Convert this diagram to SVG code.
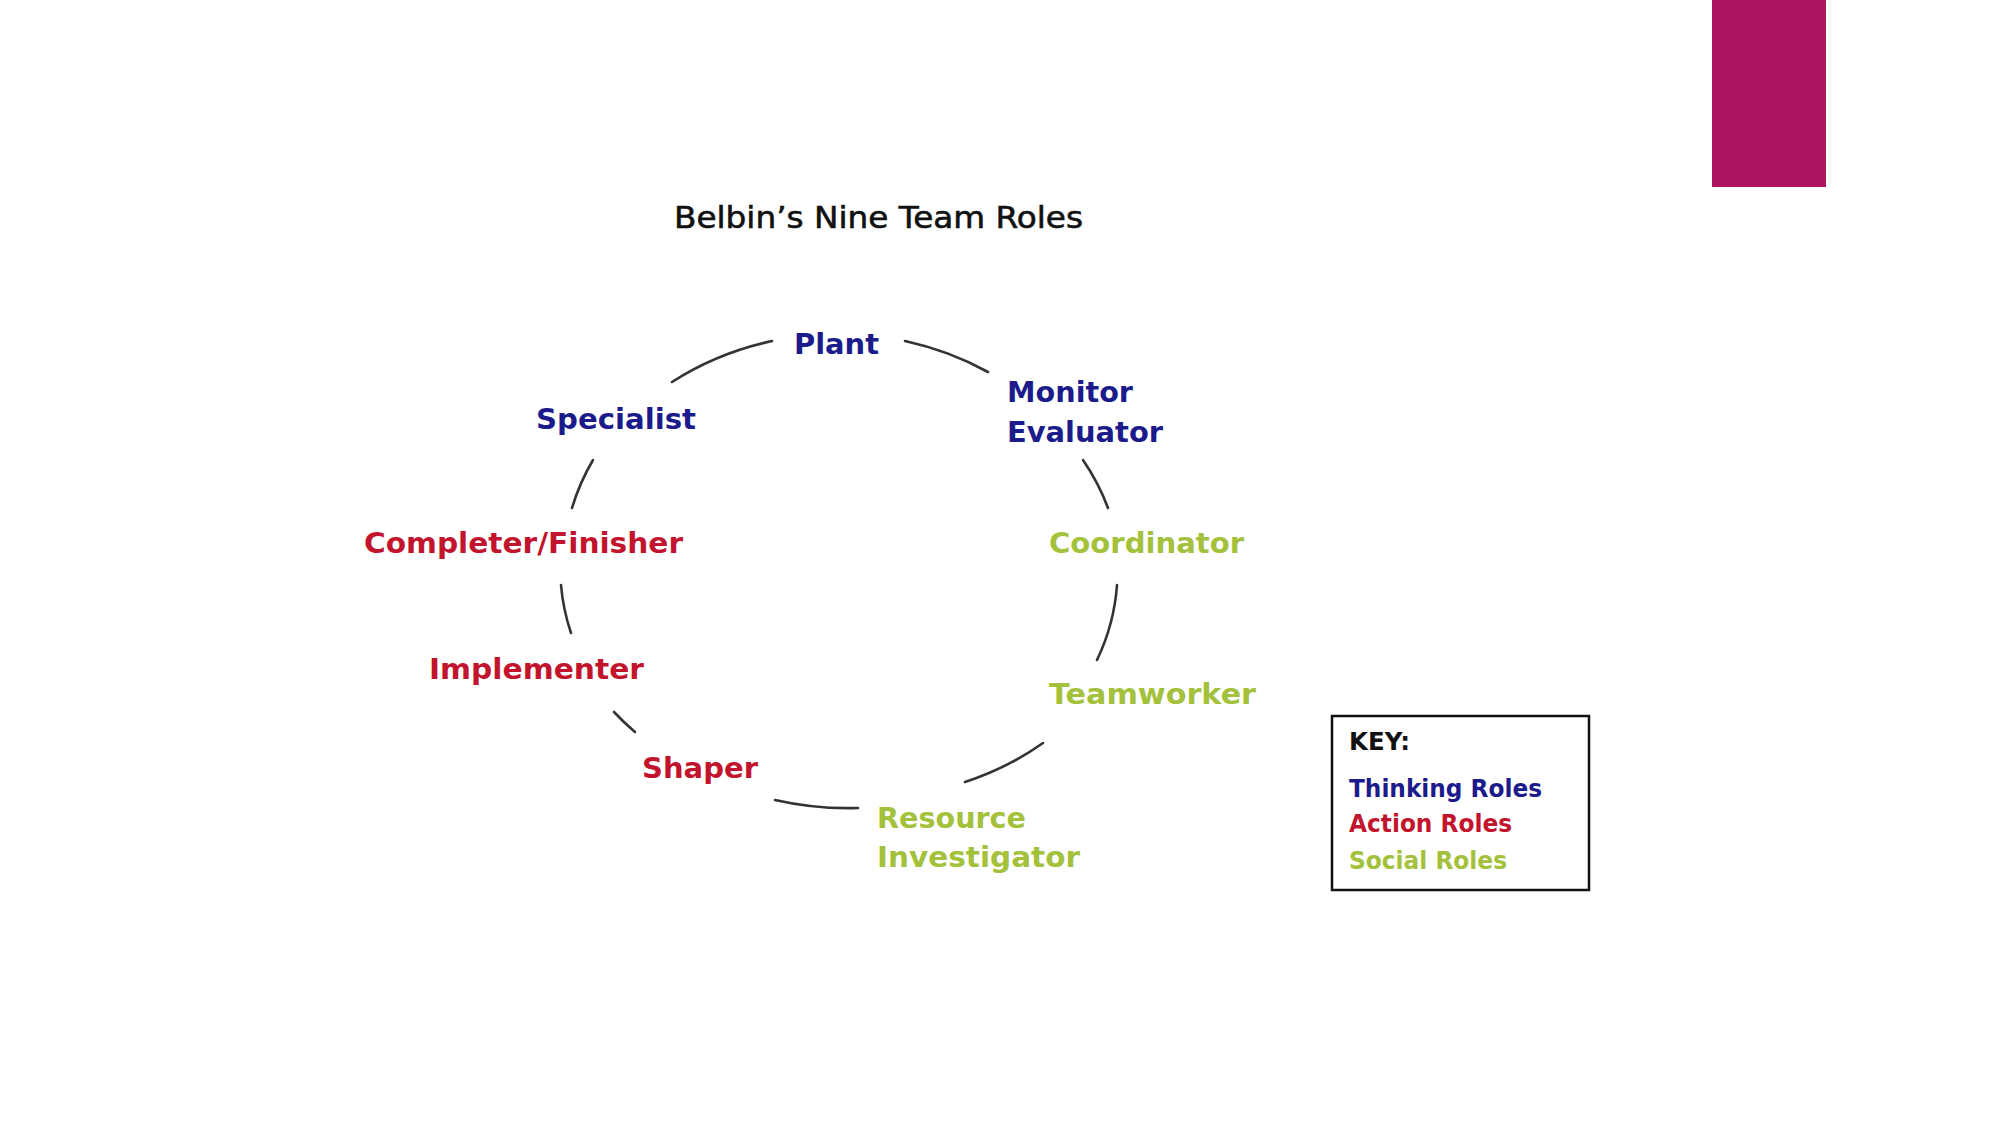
<svg xmlns="http://www.w3.org/2000/svg" width="2001" height="1125" viewBox="0 0 2001 1125">
  <style>
    .lbl { font-family: "DejaVu Sans", "Verdana", sans-serif; font-weight: bold; font-size: 29px; }
    .think { fill: #1b1b8c; }
    .act { fill: #c3142d; }
    .soc { fill: #a3c13a; }
    .arc { fill: none; stroke: #333333; stroke-width: 2.6; stroke-linecap: round; }
    .key { font-family: "DejaVu Sans", "Verdana", sans-serif; font-weight: bold; font-size: 24px; }
  </style>
  <rect x="0" y="0" width="2001" height="1125" fill="#ffffff"/>
  <rect id="accent" x="1712" y="0" width="114" height="187" fill="#af1461"/>

  <text id="title" x="674" y="228" font-family="DejaVu Sans, Verdana, sans-serif" font-size="31" fill="#111111" stroke="#111111" stroke-width="0.6" textLength="409" lengthAdjust="spacingAndGlyphs">Belbin’s Nine Team Roles</text>

  <g id="connectors">
    <path class="arc" d="M672,382 A279,237 0 0 1 772,341"/>
    <path class="arc" d="M905,341 A279,237 0 0 1 988,372"/>
    <path class="arc" d="M1083,460 A279,237 0 0 1 1108,508"/>
    <path class="arc" d="M1117,585 A279,237 0 0 1 1097,660"/>
    <path class="arc" d="M1043,743 A279,237 0 0 1 965,782"/>
    <path class="arc" d="M858,808 A279,237 0 0 1 775,800"/>
    <path class="arc" d="M635,732 A279,237 0 0 1 614,712"/>
    <path class="arc" d="M571,633 A279,237 0 0 1 561,585"/>
    <path class="arc" d="M572,508 A279,237 0 0 1 593,460"/>
  </g>

  <g id="plant"><text class="lbl think" x="794" y="354" textLength="85" lengthAdjust="spacingAndGlyphs">Plant</text></g>
  <g id="monitor-evaluator">
    <text class="lbl think" x="1007" y="402" textLength="126" lengthAdjust="spacingAndGlyphs">Monitor</text>
    <text class="lbl think" x="1007" y="442" textLength="156" lengthAdjust="spacingAndGlyphs">Evaluator</text>
  </g>
  <g id="specialist"><text class="lbl think" x="536" y="429" textLength="160" lengthAdjust="spacingAndGlyphs">Specialist</text></g>
  <g id="completer-finisher"><text class="lbl act" x="364" y="553" textLength="319" lengthAdjust="spacingAndGlyphs">Completer/Finisher</text></g>
  <g id="coordinator"><text class="lbl soc" x="1049" y="553" textLength="195" lengthAdjust="spacingAndGlyphs">Coordinator</text></g>
  <g id="implementer"><text class="lbl act" x="429" y="679" textLength="215" lengthAdjust="spacingAndGlyphs">Implementer</text></g>
  <g id="teamworker"><text class="lbl soc" x="1049" y="704" textLength="207" lengthAdjust="spacingAndGlyphs">Teamworker</text></g>
  <g id="shaper"><text class="lbl act" x="642" y="778" textLength="116" lengthAdjust="spacingAndGlyphs">Shaper</text></g>
  <g id="resource-investigator">
    <text class="lbl soc" x="877" y="828" textLength="149" lengthAdjust="spacingAndGlyphs">Resource</text>
    <text class="lbl soc" x="877" y="867" textLength="203" lengthAdjust="spacingAndGlyphs">Investigator</text>
  </g>

  <g id="key">
    <rect x="1332" y="716" width="257" height="174" fill="#ffffff" stroke="#111111" stroke-width="2.5"/>
    <text class="key" x="1349" y="750" fill="#111111" textLength="61" lengthAdjust="spacingAndGlyphs">KEY:</text>
    <text class="key think" x="1349" y="797" textLength="193" lengthAdjust="spacingAndGlyphs">Thinking Roles</text>
    <text class="key act" x="1349" y="832" textLength="163" lengthAdjust="spacingAndGlyphs">Action Roles</text>
    <text class="key soc" x="1349" y="869" textLength="158" lengthAdjust="spacingAndGlyphs">Social Roles</text>
  </g>
</svg>
